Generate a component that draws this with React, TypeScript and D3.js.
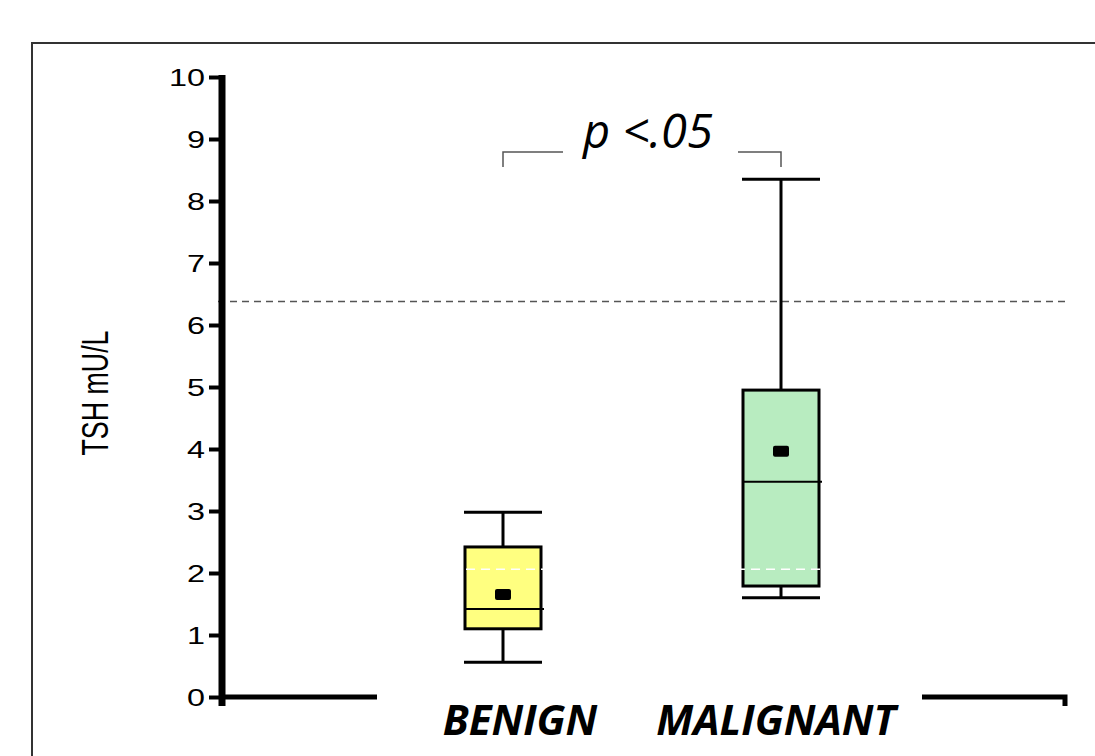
import React, { useEffect, useRef } from 'react';
import { axisLeft, range, scaleLinear, scalePoint, select } from 'd3';

// box plot values (TSH mU/L)
const categories = ['BENIGN', 'MALIGNANT'];
const whiskerLow = [0.56, 1.6];
const q1 = [1.1, 1.79];
const median = [1.42, 3.47];
const q3 = [2.42, 4.95];
const whiskerHigh = [2.98, 8.35];
const means = [1.66, 3.97];
const boxColors = ['#FFFF80', '#B8ECC0'];

const yTicks = range(0, 11);
const upperRef = 6.38;
const lowerRef = 2.06;
const pLabel = 'p <.05';
const yLabel = 'TSH mU/L';

const W = 1095;
const H = 756;

export default function App() {
	const ref = useRef<SVGSVGElement>(null);

	useEffect(() => {
		const svg = select(ref.current);
		svg.selectAll('*').remove();

		const y = scaleLinear().domain([0, 10]).range([697, 77]);
		const x = scalePoint().domain(categories).range([503, 781]);
		const axisX = 222;
		const boxW = 76;
		const capW = 78;

		// outer frame
		svg.append('rect')
			.attr('x', 32).attr('y', 43)
			.attr('width', 1120).attr('height', 800)
			.attr('fill', 'none')
			.attr('stroke', '#333')
			.attr('stroke-width', 2);

		// upper reference line
		svg.append('line')
			.attr('x1', axisX - 4).attr('x2', 1067)
			.attr('y1', y(upperRef)).attr('y2', y(upperRef))
			.attr('stroke', '#555')
			.attr('stroke-width', 1.5)
			.attr('stroke-dasharray', '7,5');

		// y axis
		const gy = svg.append('g').attr('transform', `translate(${axisX},0)`);
		gy.call(axisLeft(y).tickValues(yTicks).tickSizeInner(13).tickSizeOuter(0).tickPadding(4));
		gy.select('.domain').remove();
		gy.selectAll('.tick line').attr('stroke', '#000').attr('stroke-width', 4);
		gy.selectAll('.tick text')
			.attr('font-family', 'Liberation Sans, Arial, sans-serif')
			.attr('font-size', 24)
			.attr('fill', '#000')
			.attr('dy', '0.36em')
			.attr('textLength', (d: any) => String(d).length * 18)
			.attr('lengthAdjust', 'spacingAndGlyphs');
		svg.append('line')
			.attr('x1', axisX).attr('x2', axisX)
			.attr('y1', y(10) - 2).attr('y2', y(0) + 9)
			.attr('stroke', '#000')
			.attr('stroke-width', 7);

		// bottom axis pieces
		const baseY = y(0);
		svg.append('line')
			.attr('x1', axisX).attr('x2', 377)
			.attr('y1', baseY).attr('y2', baseY)
			.attr('stroke', '#000').attr('stroke-width', 5);
		svg.append('path')
			.attr('d', `M922,${baseY} H1065 V${baseY + 9}`)
			.attr('fill', 'none')
			.attr('stroke', '#000').attr('stroke-width', 5);

		// y label
		svg.append('text')
			.attr('transform', `translate(108,${393}) rotate(-90)`)
			.attr('text-anchor', 'middle')
			.attr('font-family', 'Liberation Sans Narrow, Liberation Sans, Arial, sans-serif')
			.attr('font-size', 36)
			.attr('textLength', 125)
			.attr('lengthAdjust', 'spacingAndGlyphs')
			.attr('fill', '#000')
			.text(yLabel);

		// boxes
		const g = svg.append('g');
		categories.forEach((c, i) => {
			const cx = x(c) as number;
			// whiskers
			g.append('line')
				.attr('x1', cx).attr('x2', cx)
				.attr('y1', y(q3[i])).attr('y2', y(whiskerHigh[i]))
				.attr('stroke', '#000').attr('stroke-width', 3);
			g.append('line')
				.attr('x1', cx).attr('x2', cx)
				.attr('y1', y(q1[i])).attr('y2', y(whiskerLow[i]))
				.attr('stroke', '#000').attr('stroke-width', 3);
			[whiskerHigh[i], whiskerLow[i]].forEach(v => {
				g.append('line')
					.attr('x1', cx - capW / 2).attr('x2', cx + capW / 2)
					.attr('y1', y(v)).attr('y2', y(v))
					.attr('stroke', '#000').attr('stroke-width', 3);
			});
			g.append('rect')
				.attr('x', cx - boxW / 2)
				.attr('y', y(q3[i]))
				.attr('width', boxW)
				.attr('height', y(q1[i]) - y(q3[i]))
				.attr('fill', boxColors[i])
				.attr('stroke', '#000')
				.attr('stroke-width', 3);
			g.append('line')
				.attr('x1', cx - boxW / 2).attr('x2', cx + boxW / 2 + 3)
				.attr('y1', y(median[i])).attr('y2', y(median[i]))
				.attr('stroke', '#000').attr('stroke-width', 2);
			g.append('rect')
				.attr('x', cx - 8).attr('y', y(means[i]) - 5)
				.attr('width', 16).attr('height', 11)
				.attr('rx', 2)
				.attr('fill', '#000');
		});

		// lower reference line (white, shows on the boxes)
		svg.append('line')
			.attr('x1', axisX + 4).attr('x2', 1067)
			.attr('y1', y(lowerRef)).attr('y2', y(lowerRef))
			.attr('stroke', '#fff')
			.attr('stroke-width', 1.5)
			.attr('stroke-dasharray', '9,6');

		// category labels
		const labelShift = [17, -5];
		categories.forEach((c, i) => {
			svg.append('text')
				.attr('x', (x(c) as number) + labelShift[i])
				.attr('y', 735)
				.attr('text-anchor', 'middle')
				.attr('font-family', 'Open Sans, sans-serif')
				.attr('font-style', 'italic')
				.attr('font-weight', 700)
				.attr('font-size', 42)
				.attr('fill', '#000')
				.text(c);
		});

		// significance bracket
		const bx1 = x(categories[0]) as number;
		const bx2 = x(categories[1]) as number;
		const bTop = 152;
		const bBot = 167;
		svg.append('path')
			.attr('d', `M${bx1},${bBot} V${bTop} H563 M738,${bTop} H${bx2} V${bBot}`)
			.attr('fill', 'none')
			.attr('stroke', '#555')
			.attr('stroke-width', 1.5);
		svg.append('text')
			.attr('x', (bx1 + bx2) / 2 + 6)
			.attr('y', 148)
			.attr('text-anchor', 'middle')
			.attr('font-family', 'Open Sans, sans-serif')
			.attr('font-style', 'italic')
			.attr('font-size', 47)
			.attr('fill', '#000')
			.text(pLabel);
	}, []);

	return (
		<svg
			ref={ref}
			width={W}
			height={H}
			style={{ position: 'absolute', left: 0, top: 0, background: '#fff' }}
		/>
	);
}
